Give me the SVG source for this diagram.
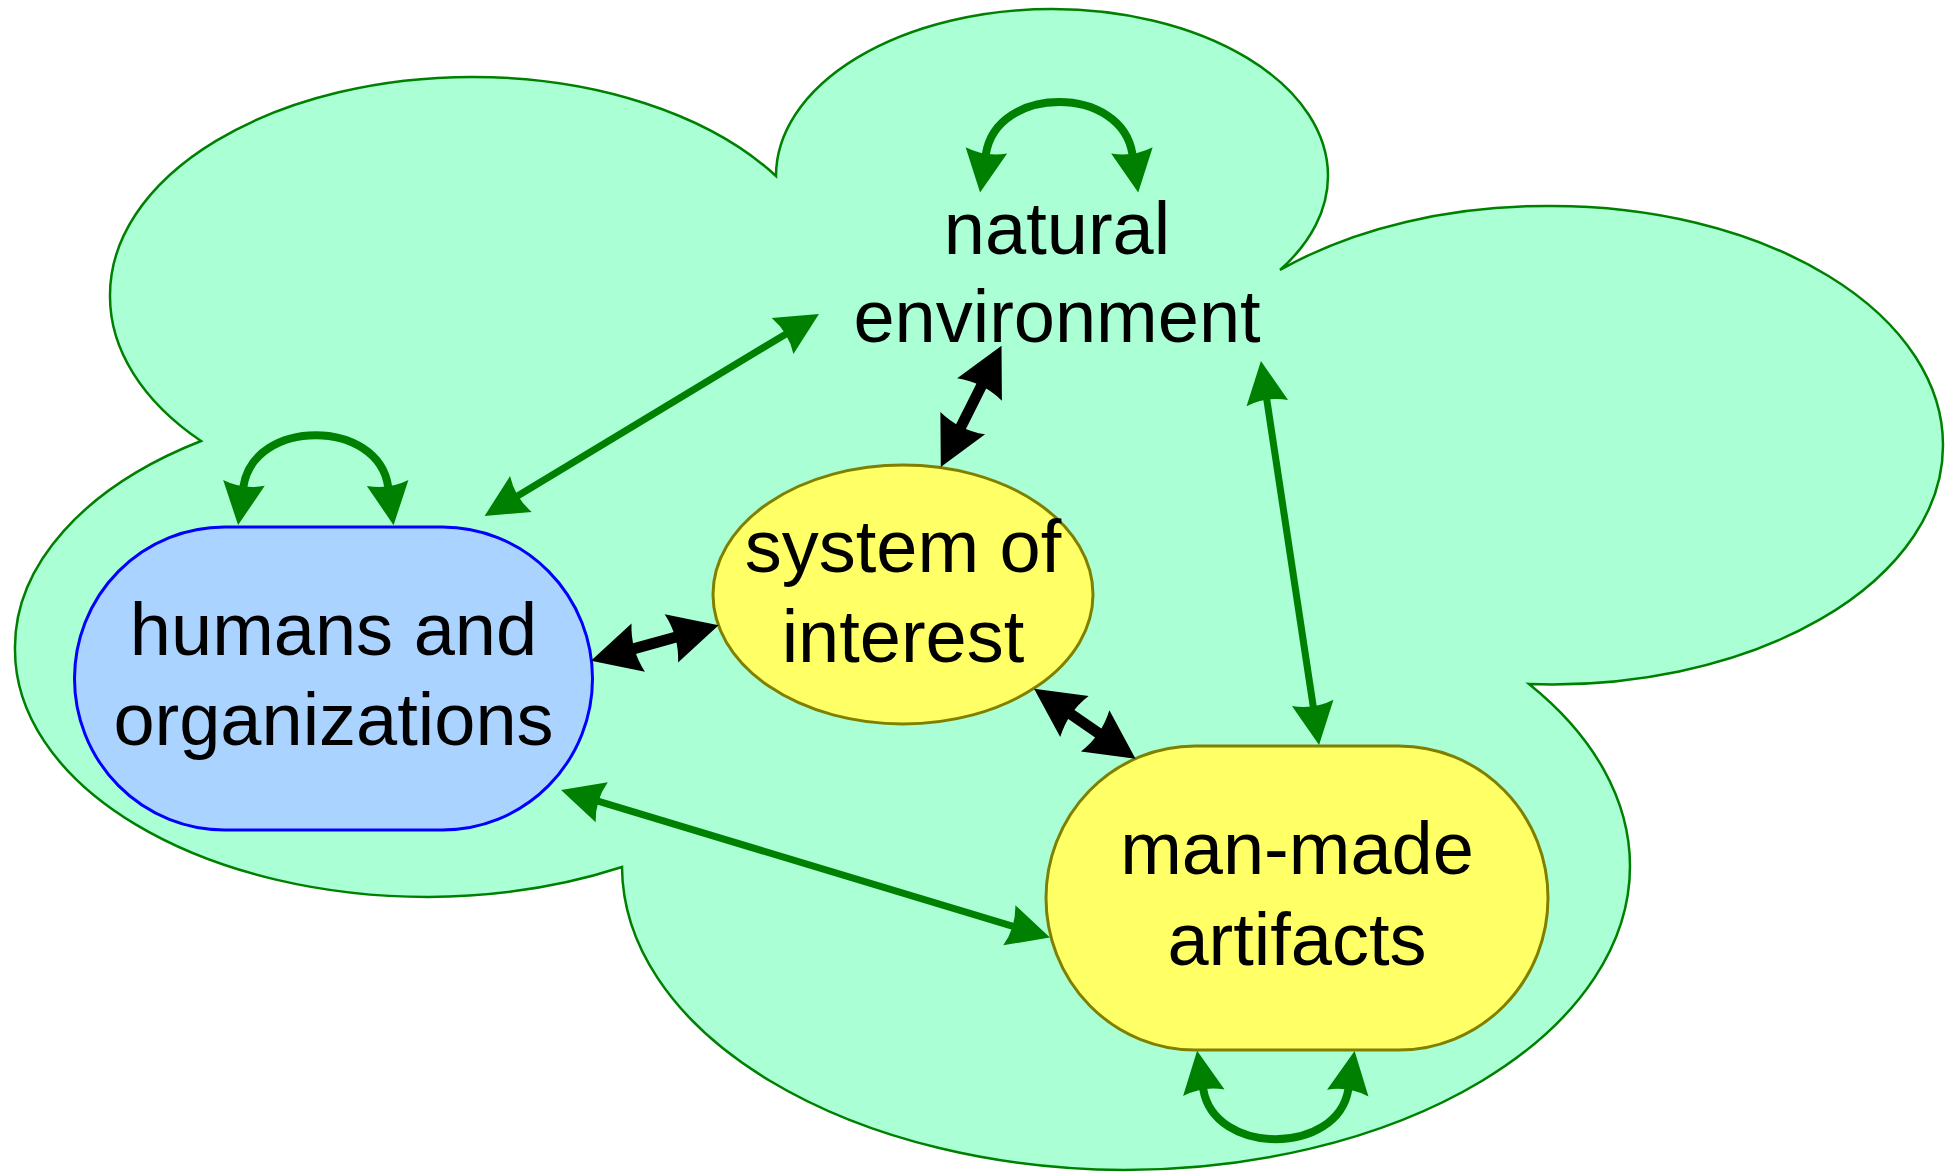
<svg xmlns="http://www.w3.org/2000/svg" width="1948" height="1173" viewBox="0 0 1948 1173">
<style>
.lbl{font-family:"Liberation Sans",Arial,sans-serif;font-size:74px;fill:#000;text-anchor:middle}
.g{fill:none;stroke:#008000;stroke-width:7}
.gl{fill:none;stroke:#008000;stroke-width:8}
.b{fill:none;stroke:#000;stroke-width:11}
</style>
<defs>
<marker id="ga" markerUnits="userSpaceOnUse" markerWidth="50" markerHeight="50" refX="4" refY="0" orient="auto-start-reverse" overflow="visible">
<path d="M42.5,0 L0,-21 Q7,0 0,21 Z" fill="#008000"/>
</marker>
<marker id="ba" markerUnits="userSpaceOnUse" markerWidth="55" markerHeight="55" refX="5" refY="0" orient="auto-start-reverse" overflow="visible">
<path d="M49,0 L0,-25 Q8,0 0,25 Z" fill="#000"/>
</marker>
</defs>
<rect width="1948" height="1173" fill="#ffffff"/>
<g id="natural-environment">
<path d="M201,441 A362,218 0 0 1 110,295 A362,218 0 0 1 472,77 A362,218 0 0 1 776,176 A276,167 0 0 1 1052,9 A276,167 0 0 1 1328,176 A276,167 0 0 1 1280,270 A391,239 0 0 1 1552,206 A391,239 0 0 1 1943,445 A391,239 0 0 1 1529,684 A506,304 0 0 1 1630,866 A506,304 0 0 1 1124,1170 A506,304 0 0 1 622,867 A413,247 0 0 1 428,897 A413,247 0 0 1 15,650 A413,247 0 0 1 201,441 Z" fill="#aaffd5" stroke="#008000" stroke-width="2.5"/>
<text class="lbl" x="1057" y="254">natural</text>
<text class="lbl" x="1057" y="342">environment</text>
</g>
<g id="humans-and-organizations">
<rect x="74.5" y="527" width="518" height="303" rx="150" ry="151.5" fill="#aad4ff" stroke="#0000ff" stroke-width="3"/>
<text class="lbl" x="333.5" y="655">humans and</text>
<text class="lbl" x="333.5" y="745">organizations</text>
</g>
<g id="system-of-interest">
<ellipse cx="903" cy="594.5" rx="190" ry="129.5" fill="#ffff66" stroke="#808000" stroke-width="3"/>
<text class="lbl" x="903" y="572">system of</text>
<text class="lbl" x="903" y="662">interest</text>
</g>
<g id="man-made-artifacts">
<rect x="1046" y="746" width="502" height="304" rx="149" ry="152" fill="#ffff66" stroke="#808000" stroke-width="3"/>
<text class="lbl" x="1297" y="874">man-made</text>
<text class="lbl" x="1297" y="965">artifacts</text>
</g>
<g id="connectors">
<path class="g" d="M517.5,496.1 L786,333.9" marker-start="url(#ga)" marker-end="url(#ga)"/>
<path class="g" d="M1266.7,399.1 L1313.3,706.9" marker-start="url(#ga)" marker-end="url(#ga)"/>
<path class="g" d="M597.9,801.1 L1013.1,926.4" marker-start="url(#ga)" marker-end="url(#ga)"/>
<path class="gl" d="M243.4,486.9 C253,418 378.5,418 388.2,487" marker-start="url(#ga)" marker-end="url(#ga)"/>
<path class="gl" d="M985.8,154.4 C996.3,84.5 1122,84.5 1132.5,154.4" marker-start="url(#ga)" marker-end="url(#ga)"/>
<path class="gl" d="M1203.2,1088.8 C1214,1156 1337.5,1156 1348.4,1089.1" marker-start="url(#ga)" marker-end="url(#ga)"/>
<path class="b" d="M633.4,648.9 L676.2,637" marker-start="url(#ba)" marker-end="url(#ba)"/>
<path class="b" d="M960.5,427.6 L981.8,385.1" marker-start="url(#ba)" marker-end="url(#ba)"/>
<path class="b" d="M1070.3,713.7 L1099.3,733.7" marker-start="url(#ba)" marker-end="url(#ba)"/>
</g>
</svg>
